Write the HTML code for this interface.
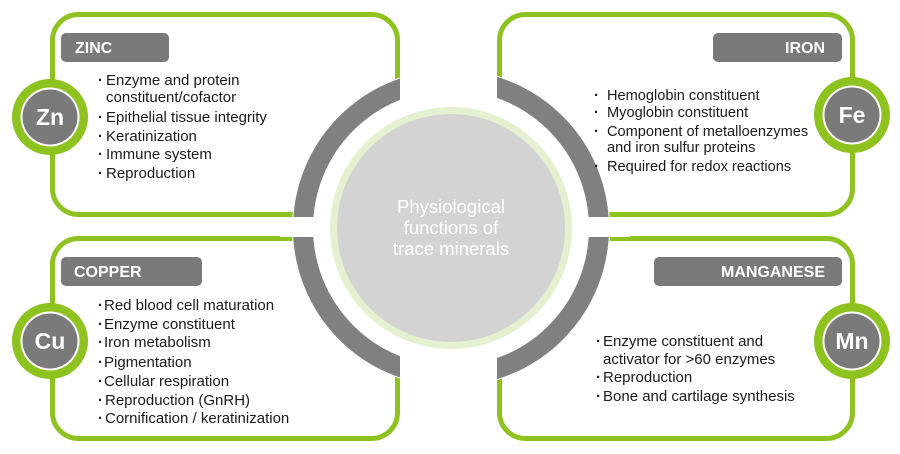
<!DOCTYPE html>
<html><head><meta charset="utf-8"><style>
html,body{margin:0;padding:0;background:#fff;}
svg{display:block;font-family:"Liberation Sans",Arial,sans-serif;}
.t{font-size:15px;fill:#1a1a1a;}
.ti{font-size:14.6px;fill:#1a1a1a;}
.b{font-size:15px;font-weight:bold;fill:#1a1a1a;}
.p{font-size:16px;font-weight:bold;fill:#fff;}
.e{font-size:23px;font-weight:bold;fill:#fff;}
.c{font-size:18.5px;fill:#fff;}
</style></head><body>
<svg width="900" height="454" viewBox="0 0 900 454">
<g fill="none" stroke="#8dc21f" stroke-width="5">
<rect x="52.5" y="14.5" width="345" height="200" rx="26"/>
<rect x="499.5" y="14.5" width="353" height="200" rx="26"/>
<rect x="52.5" y="238.5" width="345" height="200" rx="26"/>
<rect x="499.5" y="238.5" width="353" height="200" rx="26"/>
</g>
<circle cx="451" cy="228" r="159" fill="#fff"/>
<circle cx="451" cy="228" r="148" fill="none" stroke="#808080" stroke-width="20"/>
<rect x="400" y="50" width="97" height="360" fill="#fff"/>
<rect x="280" y="217" width="350" height="20" fill="#fff"/>
<circle cx="451" cy="228" r="121" fill="#e4f0cf"/>
<circle cx="451" cy="228" r="114" fill="#d3d3d3"/>
<text class="c" text-anchor="middle" x="451" y="213">Physiological</text>
<text class="c" text-anchor="middle" x="451" y="234">functions of</text>
<text class="c" text-anchor="middle" x="451" y="255">trace minerals</text>

<g fill="#7a7a7a">
<rect x="61" y="33" width="108" height="29" rx="5"/>
<rect x="713" y="33" width="129" height="29" rx="5"/>
<rect x="61" y="257" width="141" height="29" rx="5"/>
<rect x="654" y="257" width="188" height="29" rx="5"/>
</g>
<text class="p" x="75" y="53">ZINC</text>
<text class="p" x="825" y="53" text-anchor="end">IRON</text>
<text class="p" x="74" y="277">COPPER</text>
<text class="p" x="825" y="277" text-anchor="end">MANGANESE</text>

<g>
<circle cx="50" cy="117" r="38" fill="#8dc21f"/><circle cx="50" cy="117" r="29.5" fill="#fff"/><circle cx="50" cy="117" r="27.5" fill="#7a7a7a"/>
<circle cx="852" cy="115" r="38" fill="#8dc21f"/><circle cx="852" cy="115" r="29.5" fill="#fff"/><circle cx="852" cy="115" r="27.5" fill="#7a7a7a"/>
<circle cx="50" cy="341" r="38" fill="#8dc21f"/><circle cx="50" cy="341" r="29.5" fill="#fff"/><circle cx="50" cy="341" r="27.5" fill="#7a7a7a"/>
<circle cx="852" cy="341" r="38" fill="#8dc21f"/><circle cx="852" cy="341" r="29.5" fill="#fff"/><circle cx="852" cy="341" r="27.5" fill="#7a7a7a"/>
</g>
<text class="e" text-anchor="middle" x="50" y="125">Zn</text>
<text class="e" text-anchor="middle" x="852" y="123">Fe</text>
<text class="e" text-anchor="middle" x="50" y="349">Cu</text>
<text class="e" text-anchor="middle" x="852" y="349">Mn</text>

<g>
<text class="b" x="98" y="85">·</text><text class="t" x="106" y="85">Enzyme and protein</text>
<text class="t" x="106" y="102">constituent/cofactor</text>
<text class="b" x="98" y="122">·</text><text class="t" x="106" y="122">Epithelial tissue integrity</text>
<text class="b" x="98" y="141">·</text><text class="t" x="106" y="141">Keratinization</text>
<text class="b" x="98" y="159">·</text><text class="t" x="106" y="159">Immune system</text>
<text class="b" x="98" y="178">·</text><text class="t" x="106" y="178">Reproduction</text>

<text class="b" x="594" y="100">·</text><text class="ti" x="607" y="100">Hemoglobin constituent</text>
<text class="b" x="594" y="117">·</text><text class="ti" x="607" y="117">Myoglobin constituent</text>
<text class="b" x="594" y="136">·</text><text class="ti" x="607" y="136">Component of metalloenzymes</text>
<text class="ti" x="607" y="152">and iron sulfur proteins</text>
<text class="b" x="594" y="171">·</text><text class="ti" x="607" y="171">Required for redox reactions</text>

<text class="b" x="98" y="310">·</text><text class="t" x="104" y="310">Red blood cell maturation</text>
<text class="b" x="98" y="329">·</text><text class="t" x="104" y="329">Enzyme constituent</text>
<text class="b" x="98" y="347">·</text><text class="t" x="104" y="347">Iron metabolism</text>
<text class="b" x="98" y="367">·</text><text class="t" x="104" y="367">Pigmentation</text>
<text class="b" x="98" y="386">·</text><text class="t" x="104" y="386">Cellular respiration</text>
<text class="b" x="98" y="405">·</text><text class="t" x="105" y="405">Reproduction (GnRH)</text>
<text class="b" x="98" y="423">·</text><text class="t" x="105" y="423">Cornification / keratinization</text>

<text class="b" x="596" y="346">·</text><text class="t" x="603" y="346">Enzyme constituent and</text>
<text class="t" x="603" y="364">activator for &gt;60 enzymes</text>
<text class="b" x="596" y="382">·</text><text class="t" x="603" y="382">Reproduction</text>
<text class="b" x="596" y="401">·</text><text class="t" x="603" y="401">Bone and cartilage synthesis</text>
</g>
</svg>
</body></html>
